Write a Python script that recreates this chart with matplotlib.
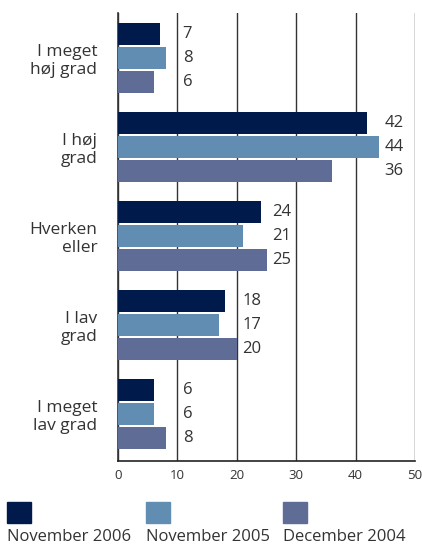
import matplotlib
matplotlib.use("Agg")
import matplotlib.pyplot as plt
from matplotlib.patches import Rectangle
import numpy as np

categories = ["I meget\nhøj grad", "I høj\ngrad", "Hverken\neller", "I lav\ngrad", "I meget\nlav grad"]
series_names = ["November 2006", "November 2005", "December 2004"]
nov2006 = [7, 42, 24, 18, 6]
nov2005 = [8, 44, 21, 17, 6]
dec2004 = [6, 36, 25, 20, 8]
xticks = [0, 10, 20, 30, 40, 50]

colors = ["#001a4b", "#628db3", "#5f6c96"]
text_color = "#333333"
plt.rcParams['font.family'] = ['Open Sans', 'DejaVu Sans']

W, H = 422, 545
fig = plt.figure(figsize=(W / 100, H / 100), dpi=100)
ax = fig.add_axes([118 / W, 1 - 461 / H, (415 - 118) / W, (461 - 13) / H])

series = [nov2006, nov2005, dec2004]
y = np.arange(len(categories))
step = 24 / 89
bh = 22 / 89
for k, vals in enumerate(series):
    ax.barh(y + (k - 1) * step, vals, height=bh, color=colors[k], zorder=3)

for i in range(len(categories)):
    gmax = max(s[i] for s in series)
    xl = max(gmax, 10) + 0.9
    for k, vals in enumerate(series):
        ax.text(xl, y[i] + (k - 1) * step, str(vals[i]), va='center', ha='left',
                fontsize=12, color=text_color, zorder=4)

ax.set_xlim(0, 50)
ax.set_ylim(4.53, -0.51)
ax.set_xticks(xticks)
ax.set_xticklabels([str(t) for t in xticks], fontsize=9.5, color=text_color)
ax.set_yticks(y)
ax.set_yticklabels(categories, fontsize=12.5, color=text_color, ha='right',
                   multialignment='right')
ax.tick_params(axis='x', length=0, pad=6)
ax.tick_params(axis='y', length=0, pad=15)
for t in ax.get_yticklabels():
    t.set_linespacing(1.15)
ax.grid(axis='x', color='#333333', linewidth=1.0, zorder=1)
ax.grid(axis='y', visible=False)
for s in ['top', 'right']:
    ax.spines[s].set_visible(False)
ax.spines['left'].set_color('#333333')
ax.spines['bottom'].set_color('#222222')
ax.spines['left'].set_linewidth(1.2)
ax.spines['bottom'].set_linewidth(1.2)
ax.set_axisbelow(True)

# legend
lx = [7, 146, 283]
for k in range(3):
    fig.add_artist(Rectangle((lx[k] / W, 1 - 523 / H), 24 / W, 21 / H,
                             transform=fig.transFigure, color=colors[k]))
    fig.text(lx[k] / W, 1 - 537 / H, series_names[k], fontsize=12,
             color=text_color, va='center', ha='left')

fig.savefig("out.png", dpi=100)
